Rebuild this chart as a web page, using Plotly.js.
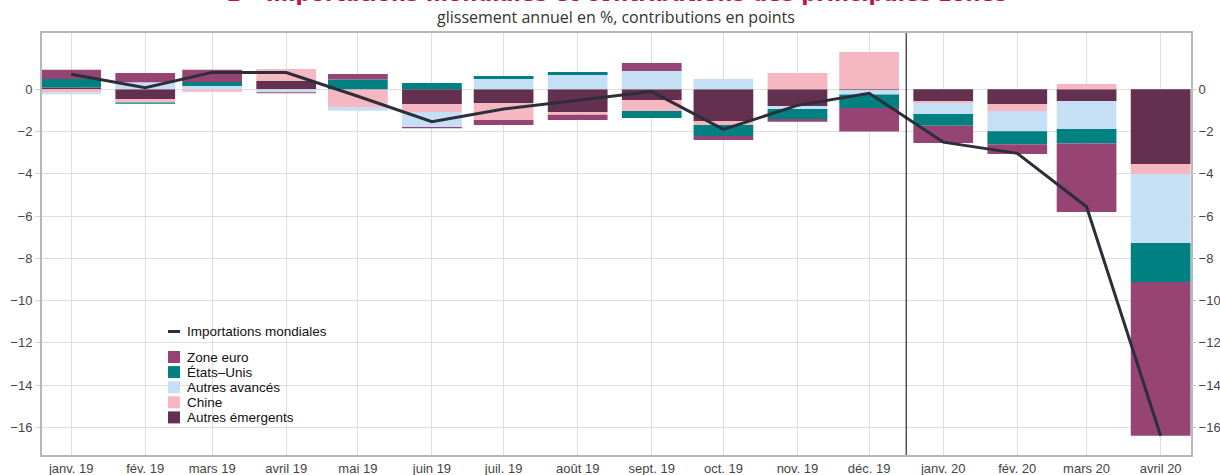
<!DOCTYPE html>
<html><head><meta charset="utf-8">
<script src="https://cdn.plot.ly/plotly-3.0.1.min.js"></script>
<style>html,body{margin:0;padding:0;background:#fff;overflow:hidden}</style>
</head><body><div id="chart" style="width:1220px;height:475px"></div>
<script>
// ---- data ----
const months = ['2019-01-01','2019-02-01','2019-03-01','2019-04-01','2019-05-01','2019-06-01','2019-07-01','2019-08-01','2019-09-01','2019-10-01','2019-11-01','2019-12-01','2020-01-01','2020-02-01','2020-03-01','2020-04-01'];
const tickLabels = ['janv. 19','fév. 19','mars 19','avril 19','mai 19','juin 19','juil. 19','août 19','sept. 19','oct. 19','nov. 19','déc. 19','janv. 20','fév. 20','mars 20','avril 20'];
const zoneEuro        = [0.43, 0.44, 0.57, -0.05, 0.27, -0.05, -0.24, -0.24, 0.38, -0.19, -0.14, -1.12, -0.82, -0.46, -3.25, -7.28];
const etatsUnis       = [0.40, -0.05, 0.19, 0.00, 0.46, 0.30, 0.14, 0.14, -0.33, -0.52, -0.47, -0.63, -0.55, -0.62, -0.68, -1.84];
const autresAvances   = [-0.10, 0.33, 0.16, -0.14, -0.17, -0.71, 0.49, 0.68, 0.87, 0.49, -0.14, -0.22, -0.52, -0.95, -1.33, -3.27];
const chine           = [-0.14, -0.17, -0.12, 0.55, -0.84, -0.38, -0.80, -0.14, -0.52, -0.19, 0.77, 1.77, -0.10, -0.33, 0.25, -0.47];
const autresEmergents = [0.09, -0.46, 0.00, 0.41, 0.00, -0.70, -0.65, -1.07, -0.51, -1.50, -0.79, -0.03, -0.55, -0.70, -0.55, -3.54];
const importations    = [0.71, 0.08, 0.80, 0.79, -0.33, -1.53, -0.93, -0.52, -0.11, -1.90, -0.76, -0.19, -2.50, -3.03, -5.56, -16.40];
const yTicks = [0, -2, -4, -6, -8, -10, -12, -14, -16];
const lineName = 'Importations mondiales';
const separatorDate = '2019-12-16 12:00';

// stacking order from zero outward
const series = [
  {name: 'Autres émergents', values: autresEmergents, color: '#63304f'},
  {name: 'Chine',            values: chine,           color: '#f5b7c1'},
  {name: 'Autres avancés',   values: autresAvances,   color: '#c5dff4'},
  {name: 'États\u2013Unis',  values: etatsUnis,       color: '#008080'},
  {name: 'Zone euro',        values: zoneEuro,        color: '#954474'}
];
const lineColor = '#2c2f3a';

const FONT = 'Liberation Sans, Arial, sans-serif';
const L = 42, T = 33, W = 1149, H = 422;
const px = v => (v - L) / W;
const py = v => (T + H - v) / H;
const BARW = 25 * 86400000;

const traces = series.map(s => ({
  type: 'bar', x: months, y: s.values, name: s.name,
  width: BARW, marker: {color: s.color, line: {width: 0}},
  showlegend: false, hoverinfo: 'x+y+name'
}));
traces.push({
  type: 'scatter', mode: 'lines', x: months, y: importations, name: lineName, yaxis: 'y2',
  line: {color: lineColor, width: 3}, showlegend: false
});

// custom legend
const shapes = [];
const annotations = [];
shapes.push({type: 'line', xref: 'paper', yref: 'paper', x0: px(168), x1: px(180), y0: py(331.5), y1: py(331.5), line: {color: lineColor, width: 3}});
annotations.push({xref: 'paper', yref: 'paper', x: px(185), y: py(331.5), xanchor: 'left', yanchor: 'middle', showarrow: false, text: lineName, font: {family: FONT, size: 13.5, color: '#111'}});
const legendOrder = series.slice().reverse();
legendOrder.forEach((s, i) => {
  const cy = 357 + i * 15.1;
  shapes.push({type: 'rect', xref: 'paper', yref: 'paper', x0: px(168), x1: px(180), y0: py(cy - 6), y1: py(cy + 6), fillcolor: s.color, line: {width: 0}});
  annotations.push({xref: 'paper', yref: 'paper', x: px(185), y: py(cy), xanchor: 'left', yanchor: 'middle', showarrow: false, text: s.name, font: {family: FONT, size: 13.5, color: '#111'}});
});
// separator line
shapes.push({type: 'line', xref: 'x', yref: 'paper', x0: separatorDate, x1: separatorDate, y0: 0, y1: 1, line: {color: '#000', width: 1}});

// titles
annotations.push({xref: 'paper', yref: 'paper', x: px(616), y: py(-6), xanchor: 'center', yanchor: 'middle', showarrow: false,
  text: '<b>1 \u2013 Importations mondiales et contributions des principales zones</b>', font: {family: 'DejaVu Sans, sans-serif', size: 21, color: '#b8163e'}});
annotations.push({xref: 'paper', yref: 'paper', x: px(616), y: py(17), xanchor: 'center', yanchor: 'middle', showarrow: false,
  text: 'glissement annuel en %, contributions en points', font: {family: 'Open Sans, sans-serif', size: 16, color: '#333'}});

const yr = [-17.31, 2.665];
const layout = {
  width: 1220, height: 475, autosize: false,
  margin: {l: L, r: 1220 - L - W, t: T, b: 475 - T - H, pad: 0},
  paper_bgcolor: '#fff', plot_bgcolor: '#fff',
  barmode: 'relative', showlegend: false,
  font: {family: FONT, size: 13, color: '#444'},
  xaxis: {type: 'date', range: ['2018-12-19 19:00', '2020-04-13 17:00'],
    tickvals: months, ticktext: tickLabels, ticks: '', showgrid: true, gridcolor: '#dedede', gridwidth: 1,
    showline: true, linecolor: '#b8b8b8', linewidth: 2, mirror: true, zeroline: false,
    tickfont: {family: FONT, size: 13, color: '#444'}, automargin: false, fixedrange: true},
  yaxis: {range: yr, tickvals: yTicks, ticks: 'outside', ticklen: 5, tickcolor: '#d6d6d6',
    showgrid: true, gridcolor: '#dedede', gridwidth: 1, zeroline: false,
    showline: true, linecolor: '#b8b8b8', linewidth: 2, mirror: true,
    tickfont: {family: FONT, size: 13, color: '#444'}, automargin: false, fixedrange: true},
  yaxis2: {range: yr, tickvals: yTicks, overlaying: 'y', side: 'right', ticks: 'outside', ticklen: 4, tickcolor: '#c8c8c8',
    showgrid: false, zeroline: false, showline: false,
    tickfont: {family: FONT, size: 13, color: '#444'}, automargin: false, fixedrange: true},
  shapes: shapes, annotations: annotations
};
Plotly.newPlot('chart', traces, layout, {displayModeBar: false, staticPlot: true});
</script></body></html>
